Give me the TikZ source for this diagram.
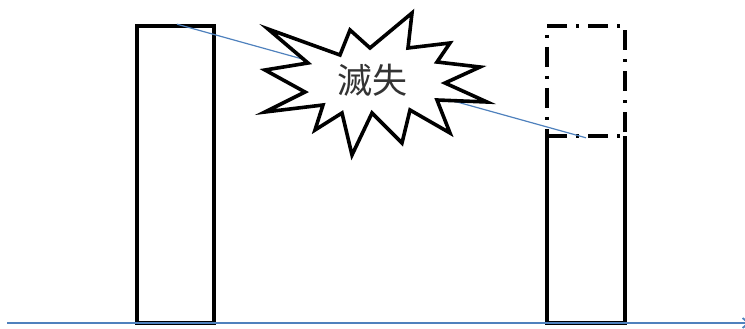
\documentclass[tikz,border=0pt]{standalone}
\usepackage{fontspec}
\newfontfamily\cjk{Noto Sans CJK JP}
\usetikzlibrary{arrows.meta,positioning,calc}
\definecolor{RuinBlue}{RGB}{79,129,189}
\tikzset{
  ruin/pillar/.style={
    draw=black,
    line width=3.6pt,
    fill=white,
    inner sep=0pt,
    minimum width=77pt
  },
  ruin/stump/.style={
    draw=none,
    inner sep=0pt,
    minimum width=78pt
  },
  ruin/lost/.style={
    draw=black,
    line width=3.6pt,
    dash pattern=on 20pt off 9pt on 3pt off 9pt,
    inner sep=0pt,
    minimum width=78pt
  },
  ruin/burst/.style={draw=black, line width=3.6pt, fill=white, line join=miter},
  ruin/label/.style={font=\cjk\fontsize{35}{35}\selectfont, text=black!80},
  ruin/ray/.style={draw=RuinBlue, line width=1.2pt},
  ruin/ground/.style={-{Straight Barb[length=6pt,width=10pt]}, draw=RuinBlue, line width=1.8pt}
}
\begin{document}
\begin{tikzpicture}[x=1pt,y=-1pt]
  \useasboundingbox (0,0) rectangle (745,329);
  % pillars
  \node[ruin/pillar,minimum height=297pt] (before) at (175.5,174.5) {};
  \node[ruin/stump,minimum height=187pt] (after) at (586,229.5) {};
  \node[ruin/lost,minimum height=110pt] (lost) at (586,81) {};
  \draw[line width=3.6pt] (after.north west) -- (after.south west) -- (after.south east) -- (after.north east);
  % ground
  \coordinate (g0) at (7,323);
  \coordinate (g1) at (750,323);
  \draw[ruin/ground] (g0) -- (g1);
  % sight line over the lost part
  \draw[ruin/ray] ($(before.north)+(1.5,0)$) -- (lost.south);
  % explosion
  \draw[ruin/burst] plot coordinates {
    (268,29) (340,55) (350,30) (370,48) (412,13) (408,48)
    (450,43) (437,62) (480,67) (445,83) (487,102) (437,100)
    (450,133) (410,110) (402,143) (372,113) (352,155) (342,113)
    (315,130) (323,105) (265,112) (305,92) (265,70) (308,63)
  } -- cycle;
  \node[ruin/label] (loss) at (372,80) {滅失};
\end{tikzpicture}
\end{document}
